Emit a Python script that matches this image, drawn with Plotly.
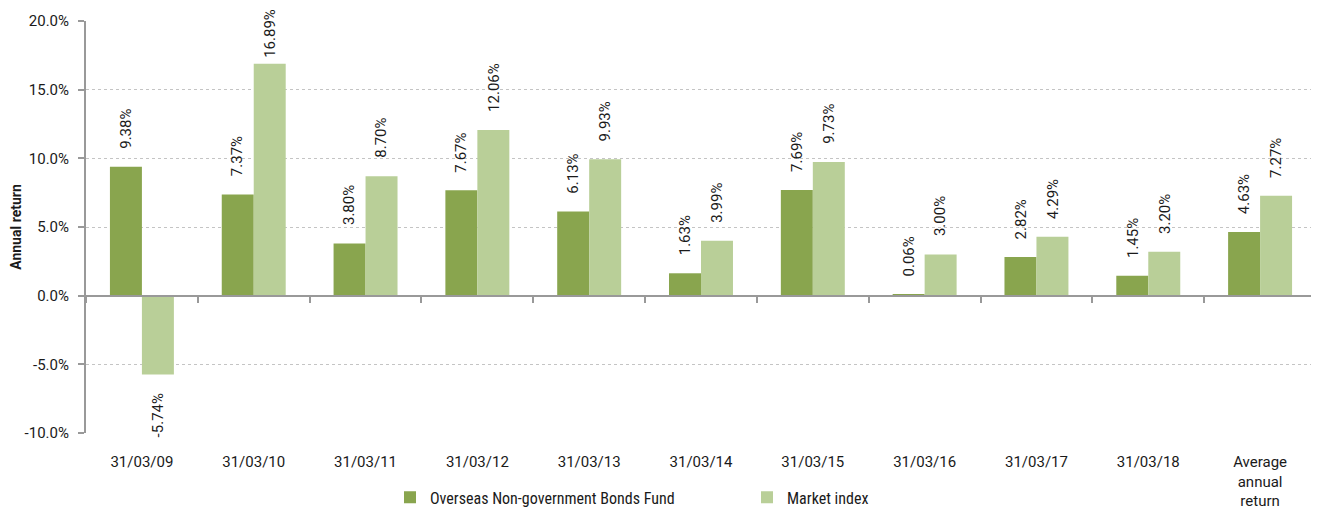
import plotly.graph_objects as go

categories = ["31/03/09", "31/03/10", "31/03/11", "31/03/12", "31/03/13", "31/03/14",
              "31/03/15", "31/03/16", "31/03/17", "31/03/18", "Average<br>annual<br>return"]
fund_values = [9.38, 7.37, 3.80, 7.67, 6.13, 1.63, 7.69, 0.06, 2.82, 1.45, 4.63]
index_values = [-5.74, 16.89, 8.70, 12.06, 9.93, 3.99, 9.73, 3.00, 4.29, 3.20, 7.27]
tick_vals = [-10, -5, 0, 5, 10, 15, 20]
tick_text = ["-10.0%", "-5.0%", "0.0%", "5.0%", "10.0%", "15.0%", "20.0%"]
series_names = ["Overseas Non-government Bonds Fund", "Market index"]

FONT = "Roboto, Arial, sans-serif"
LEGEND_FONT = "'Liberation Sans Narrow', 'Roboto Condensed', Roboto, sans-serif"
DARK = "#89A54E"
LIGHT = "#B9CF98"

# page has an 8px body margin, so the figure is sized to fit the window
PAGE_OFF = 8
W, H = 1319 - PAGE_OFF, 518 - PAGE_OFF
ML, MR, MT, MB = 86 - PAGE_OFF, 3, 21 - PAGE_OFF, 85
BARGAP = 0.428
ymin, ymax = -10, 20
LABEL_SIZE = 15
plot_h = H - MT - MB

# approximate glyph advance widths (em) for label length estimation
ADV = {".": 0.263, "%": 0.73, "-": 0.35}


def est_len(s):
    return sum(ADV.get(ch, 0.562) for ch in s) * LABEL_SIZE


fig = go.Figure()
for name, vals, col in [(series_names[0], fund_values, DARK), (series_names[1], index_values, LIGHT)]:
    fig.add_trace(go.Bar(name=name, x=categories, y=vals,
                         marker=dict(color=col, line=dict(width=0))))

# zero-line category axis host
fig.add_trace(go.Bar(x=categories, y=[None] * len(categories), xaxis="x2",
                     showlegend=False, hoverinfo="skip"))

# rotated value labels placed relative to bar ends (kept inside the figure)
cat_w = (W - ML - MR) / len(categories)
bar_w = cat_w * (1 - BARGAP) / 2
for k, vals in enumerate([fund_values, index_values]):
    shift = (k - 0.5) * bar_w
    for c, v in zip(categories, vals):
        txt = f"{v:.2f}%"
        if v >= 0:
            top_px = MT + (ymax - v) / (ymax - ymin) * plot_h
            ys = min(16, top_px - 3 - est_len(txt))
            anchor = "bottom"
        else:
            ys = -17
            anchor = "top"
        fig.add_annotation(
            x=c, y=v, xref="x", yref="y", text=txt, textangle=-90,
            showarrow=False, xshift=shift, yanchor=anchor, yshift=ys,
            font=dict(family=FONT, size=LABEL_SIZE, color="#1a1a1a"))

fig.update_layout(
    width=W, height=H,
    margin=dict(l=ML, r=MR, t=MT, b=MB, autoexpand=False),
    paper_bgcolor="white", plot_bgcolor="white",
    font=dict(family=FONT, size=15, color="#1a1a1a"),
    barmode="group", bargap=BARGAP, bargroupgap=0,
    xaxis=dict(showline=False, ticks="", showgrid=False, zeroline=False, automargin=False,
               tickfont=dict(size=15), ticklabelstandoff=18, fixedrange=True),
    xaxis2=dict(overlaying="x", anchor="free", position=(0 - ymin) / (ymax - ymin),
                matches="x", showticklabels=False, showline=True, linecolor="#999",
                linewidth=2, ticks="outside", ticklen=6, tickcolor="#999", tickwidth=1.5,
                tickson="boundaries", showgrid=False, zeroline=False, automargin=False),
    yaxis=dict(range=[ymin, ymax], tickvals=tick_vals, ticktext=tick_text,
               showline=True, linecolor="#999", linewidth=2, ticks="outside",
               ticklen=6, tickcolor="#999", tickwidth=1.5, ticklabelstandoff=6,
               showgrid=True, gridcolor="#c4c4c4", griddash="dot", gridwidth=1,
               zeroline=False, tickfont=dict(size=15), automargin=False,
               title=dict(text="<b>Annual return</b>", font=dict(size=14), standoff=6)),
    legend=dict(orientation="h", x=(390 - PAGE_OFF - ML) / (W - ML - MR), xanchor="left",
                y=-0.115, yanchor="top",
                font=dict(family=LEGEND_FONT, size=16), entrywidth=312, itemwidth=30,
                traceorder="normal"),
    showlegend=True,
)

fig.write_html("out.html")
